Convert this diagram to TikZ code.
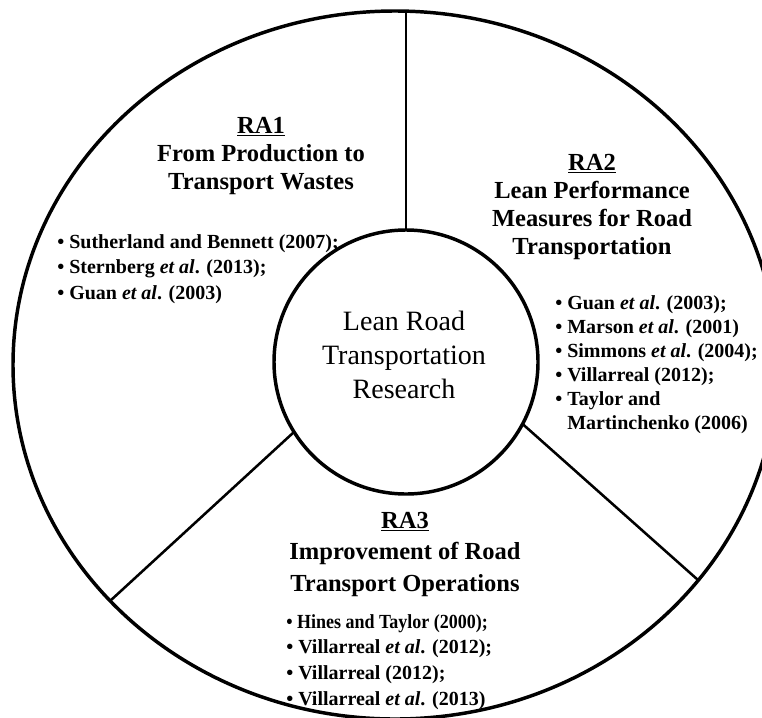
\documentclass[tikz,border=0pt]{standalone}
\usepackage{fontspec}
\usepackage{graphicx}
\setmainfont{Liberation Serif}
\usetikzlibrary{shapes.geometric}
\begin{document}
\begin{tikzpicture}[x=0.75pt,y=-0.75pt,
  ring/.style={draw, line width=2.6pt, inner sep=0pt, outer sep=0pt},
  divider/.style={line width=1.9pt},
  head/.style={align=center, inner sep=0pt, anchor=north, font=\bfseries\fontsize{18.4pt}{21pt}\selectfont},
  refs/.style={align=left, inner sep=0pt, anchor=north west},
  core/.style={align=center, inner sep=0pt, anchor=north, font=\fontsize{21pt}{25.5pt}\selectfont}
]
\useasboundingbox (0,0) rectangle (762,717);
\fill[white] (0,0) rectangle (762,717);
\clip (0,0) rectangle (762,717);
\node[ring, ellipse, minimum width=573pt, minimum height=531pt] (outer) at (395,365) {};
\node[ring, circle, minimum size=198pt] (inner) at (406,362) {};
\coordinate (top) at (406,11);
\coordinate (bl) at (110,601);
\coordinate (br) at (698,580);
\draw[divider] (inner.north) -- (top);
\draw[divider] (inner.212) -- (bl);
\draw[divider] (inner.332) -- (br);

\node[core] (center) at (404,311) {Lean Road\\Transportation\\Research};

\node[head] (ra1) at (261,117) {\underline{RA1}\\From Production to\\Transport Wastes};
\node[head] (ra2) at (592,154) {\underline{RA2}\\Lean Performance\\Measures for Road\\Transportation};
\node[head, font=\bfseries\fontsize{18.4pt}{23.6pt}\selectfont] (ra3) at (405,512) {\underline{RA3}\\Improvement of Road\\Transport Operations};

\node[refs, font=\bfseries\fontsize{15pt}{19.1pt}\selectfont] (refs1) at (57,234)
  {\textbullet\ Sutherland and Bennett (2007);\\
   \textbullet\ Sternberg \textit{et al}. (2013);\\
   \textbullet\ Guan \textit{et al}. (2003)};
\node[refs, font=\bfseries\fontsize{15pt}{18pt}\selectfont] (refs2) at (555,295)
  {\textbullet\ Guan \textit{et al}. (2003);\\
   \textbullet\ Marson \textit{et al}. (2001)\\
   \textbullet\ Simmons \textit{et al}. (2004);\\
   \textbullet\ Villarreal (2012);\\
   \textbullet\ Taylor and\\
   \hphantom{\textbullet\ }Martinchenko (2006)};
\node[refs, font=\bfseries\fontsize{15pt}{19.3pt}\selectfont] (refs3) at (286,614)
  {\scalebox{0.9}[1]{\textbullet\ Hines and Taylor (2000);}\\
   \textbullet\ Villarreal \textit{et al}. (2012);\\
   \textbullet\ Villarreal (2012);\\
   \textbullet\ Villarreal \textit{et al}. (2013)};
\end{tikzpicture}
\end{document}
